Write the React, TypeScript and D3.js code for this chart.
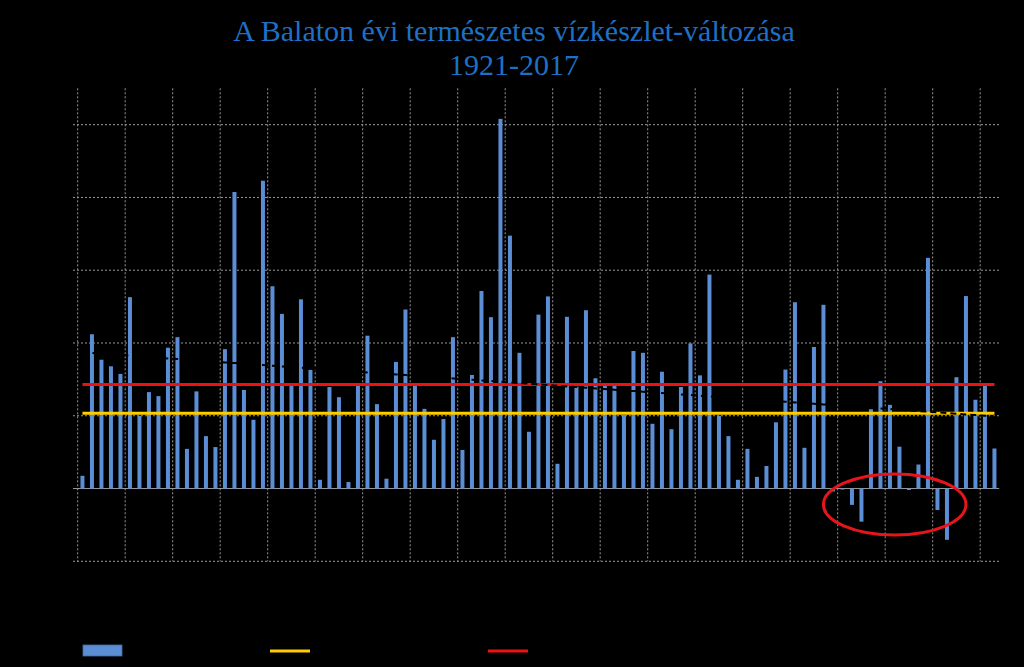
import React from "react";
import * as d3 from "d3";

const titleLines = ["A Balaton évi természetes vízkészlet-változása", "1921-2017"];
const years: number[] = d3.range(1921, 2018);
const values: number[] = [
  35, 424, 354, 336, 315, 526, 200, 265, 254, 387, 416, 109, 267, 144, 114, 383,
  815, 271, 189, 846, 556, 480, 284, 520, 326, 24, 279, 251, 18, 283, 420, 232,
  27, 348, 492, 284, 219, 134, 191, 416, 106, 312, 543, 471, 1016, 695, 373, 156,
  478, 528, 68, 472, 280, 490, 303, 283, 283, 202, 378, 373, 178, 321, 163, 279,
  399, 311, 588, 200, 144, 24, 109, 32, 62, 182, 327, 512, 112, 389, 505, -8,
  -2, -45, -91, 218, 295, 230, 115, -4, 66, 634, -59, -141, 306, 529, 244, 284, 110,
];
const yTicks: number[] = [-200, 0, 200, 400, 600, 800, 1000];
const yDomain: [number, number] = [-200, 1100];
const yellowLevel: number[] = [207];
const highlightYears: number[] = [1999, 2014];
const highlightRange: number[] = [-128, 40];

const W = 1024;
const H = 667;

export default function App() {
  const x = d3.scaleBand<number>().domain(years).range([77.7, 999.2]).paddingInner(0.58).paddingOuter(0.29);
  const y = d3.scaleLinear().domain(yDomain).range([561.3, 88.3]);
  const cx = (yr: number) => (x(yr) as number) + x.bandwidth() / 2;
  const step = x.step();
  const left = 77.7;
  const right = 999.2;

  const mean = d3.mean(values) as number;
  const idx = values.map((_, i) => i);
  const mx = d3.mean(idx) as number;
  const slope =
    d3.sum(idx, (i) => (i - mx) * (values[i] - mean)) / d3.sum(idx, (i) => (i - mx) * (i - mx));
  const trend = (i: number) => mean + slope * (i - mx);
  const line = d3
    .line<number>()
    .x((i) => cx(years[i]))
    .y((i) => y(trend(i)));

  const vGrid = years.filter((_, i) => i % 5 === 0).map((yr) => left + years.indexOf(yr) * step);

  const x0 = cx(years[0]);
  const x1 = cx(years[years.length - 1]);
  const ex0 = cx(highlightYears[0]);
  const ex1 = cx(highlightYears[1]);

  return (
    <svg width={W} height={H} style={{ position: "absolute", left: 0, top: 0, background: "#000" }}>
      <rect x={0} y={0} width={W} height={H} fill="#000" />
      {titleLines.map((t, i) => (
        <text
          key={t}
          x={514}
          y={41 + i * 34}
          textAnchor="middle"
          fontFamily="'Liberation Serif', 'Times New Roman', serif"
          fontSize={30}
          fill="#1f70c4"
        >
          {t}
        </text>
      ))}
      {yTicks.map((t) => (
        <line
          key={"h" + t}
          x1={73}
          x2={right}
          y1={y(t)}
          y2={y(t)}
          stroke="#999999"
          strokeWidth={1}
          strokeDasharray={t === 0 ? undefined : "2,2"}
        />
      ))}
      {vGrid.map((gx, i) => (
        <line key={"v" + i} x1={gx} x2={gx} y1={88.3} y2={561.3} stroke="#999999" strokeWidth={1} strokeDasharray="2,2" />
      ))}
      {values.map((v, i) => (
        <rect
          key={"b" + i}
          x={x(years[i])}
          width={x.bandwidth()}
          y={y(Math.max(0, v))}
          height={Math.max(1, Math.abs(y(v) - y(0)))}
          fill="#5b8ed4"
        />
      ))}
      <line x1={x0} x2={x1} y1={y(yellowLevel[0])} y2={y(yellowLevel[0])} stroke="#ffcc00" strokeWidth={3} />
      <line x1={x0} x2={x1} y1={y(mean)} y2={y(mean)} stroke="#ee1111" strokeWidth={3} />
      <path d={line(idx) as string} fill="none" stroke="#000" strokeWidth={2} strokeDasharray="6,4" />
      <ellipse
        cx={(ex0 + ex1) / 2}
        cy={(y(highlightRange[0]) + y(highlightRange[1])) / 2}
        rx={(ex1 - ex0) / 2}
        ry={(y(highlightRange[0]) - y(highlightRange[1])) / 2}
        fill="none"
        stroke="#e8141b"
        strokeWidth={3}
      />
      <rect x={83} y={645} width={39} height={11} fill="#5b8ed4" stroke="#3e6ea8" strokeWidth={0.8} />
      <line x1={270} x2={310} y1={651} y2={651} stroke="#ffcc00" strokeWidth={3} />
      <line x1={488} x2={528} y1={651} y2={651} stroke="#ee1111" strokeWidth={3} />
    </svg>
  );
}
